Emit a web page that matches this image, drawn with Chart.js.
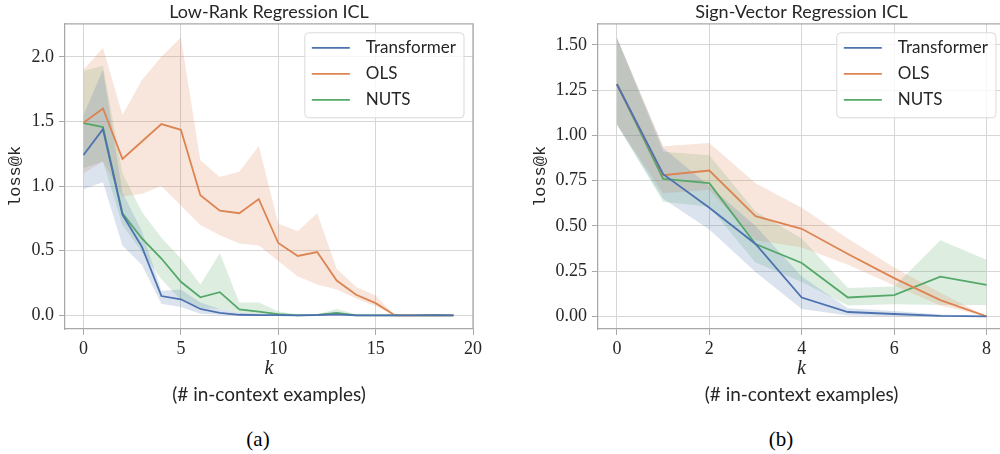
<!DOCTYPE html>
<html>
<head>
<meta charset="utf-8">
<script src="https://cdn.jsdelivr.net/npm/chart.js@4.4.0/dist/chart.umd.min.js"></script>
<style>
  html, body { margin: 0; padding: 0; background: #fff; }
  body { width: 1000px; height: 454px; overflow: hidden; position: relative; }
  canvas { position: absolute; top: 0; }
  #lowCanvas { left: 0; }
  #signCanvas { left: 525px; }
  .caption { position: absolute; top: 427px; font-family: "Liberation Serif", serif; font-size: 21px; color: #000; transform: translateX(-50%); }
</style>
</head>
<body>
<canvas id="lowCanvas" width="490" height="412"></canvas>
<canvas id="signCanvas" width="490" height="412"></canvas>
<div class="caption" style="left:258px">(a)</div>
<div class="caption" style="left:781px">(b)</div>
<script>
// ---- Low-Rank Regression ICL ----
const kLow = [0, 1, 2, 3, 4, 5, 6, 7, 8, 9, 10, 11, 12, 13, 14, 15, 16, 17, 18, 19];
const lowTransformer   = [1.24, 1.44, 0.78, 0.53, 0.15, 0.125, 0.05, 0.02, 0.005, 0.003, 0.003, 0.0, 0.003, 0.008, 0.0, 0.0, 0.0, 0.0, 0.002, 0.0];
const lowTransformerLo = [0.975, 1.03, 0.54, 0.39, 0.09, 0.065, 0.013, 0.005, 0.0, 0.0, 0.0, 0.0, 0.0, 0.0, 0.0, 0.0, 0.0, 0.0, 0.0, 0.0];
const lowTransformerHi = [1.55, 1.9, 0.95, 0.65, 0.19, 0.2, 0.1, 0.05, 0.02, 0.012, 0.01, 0.004, 0.01, 0.025, 0.004, 0.002, 0.002, 0.002, 0.006, 0.002];
const lowOLS   = [1.49, 1.6, 1.21, 1.345, 1.48, 1.435, 0.93, 0.81, 0.79, 0.9, 0.56, 0.46, 0.49, 0.27, 0.16, 0.095, 0.0, 0.0, 0.0, 0.0];
const lowOLSLo = [1.1, 1.19, 0.92, 0.94, 1.0, 0.85, 0.7, 0.62, 0.556, 0.54, 0.42, 0.3, 0.24, 0.2, 0.13, 0.07, 0.0, 0.0, 0.0, 0.0];
const lowOLSHi = [1.9, 2.07, 1.55, 1.82, 2.0, 2.15, 1.2, 1.07, 1.11, 1.31, 0.71, 0.65, 0.79, 0.36, 0.22, 0.155, 0.0, 0.0, 0.0, 0.0];
const lowNUTS   = [1.487, 1.456, 0.79, 0.595, 0.44, 0.26, 0.14, 0.18, 0.047, 0.03, 0.01, 0.0, 0.004, 0.02, 0.0, 0.0, 0.0, 0.0, 0.002, 0.0];
const lowNUTSLo = [1.14, 1.19, 0.7, 0.49, 0.28, 0.12, 0.06, 0.05, 0.02, 0.01, 0.0, 0.0, 0.0, 0.004, 0.0, 0.0, 0.0, 0.0, 0.0, 0.0];
const lowNUTSHi = [1.89, 1.93, 1.1, 0.8, 0.6, 0.44, 0.24, 0.48, 0.1, 0.1, 0.03, 0.01, 0.01, 0.05, 0.01, 0.005, 0.005, 0.005, 0.01, 0.005];
const lowYTicks = [0, 0.5, 1.0, 1.5, 2.0];
const lowXTicks = [0, 5, 10, 15, 20];

// ---- Sign-Vector Regression ICL ----
const kSign = [0, 1, 2, 3, 4, 5, 6, 7, 8];
const signTransformer   = [1.283, 0.786, 0.6, 0.4, 0.104, 0.024, 0.013, 0.002, 0.0];
const signTransformerLo = [1.06, 0.65, 0.48, 0.245, 0.04, 0.005, 0.0, 0.0, 0.0];
const signTransformerHi = [1.54, 0.93, 0.72, 0.5, 0.22, 0.045, 0.03, 0.01, 0.0];
const signOLS   = [1.283, 0.78, 0.806, 0.554, 0.484, 0.345, 0.211, 0.09, 0.0];
const signOLSLo = [1.06, 0.68, 0.7, 0.42, 0.38, 0.285, 0.17, 0.06, 0.0];
const signOLSHi = [1.54, 0.94, 0.958, 0.736, 0.6, 0.43, 0.27, 0.13, 0.0];
const signNUTS   = [1.283, 0.76, 0.736, 0.4, 0.295, 0.104, 0.117, 0.219, 0.174];
const signNUTSLo = [1.06, 0.634, 0.606, 0.297, 0.19, 0.06, 0.067, 0.063, 0.063];
const signNUTSHi = [1.54, 0.91, 0.89, 0.58, 0.43, 0.156, 0.165, 0.42, 0.313];
const signYTicks = [0, 0.25, 0.5, 0.75, 1.0, 1.25, 1.5];
const signXTicks = [0, 2, 4, 6, 8];

const seriesNames = ["Transformer", "OLS", "NUTS"];
const lineColors = ["#4C72B0", "#DD8452", "#55A868"];
const bandColors = ["rgba(76,114,176,0.2)", "rgba(221,132,82,0.2)", "rgba(85,168,104,0.2)"];

const textColor = "#262626";
const gridColor = "#d6d6d6";
const spineColor = "#a8a8a8";

const toPoints = (ks, ys) => ks.map((k, i) => ({ x: k, y: ys[i] }));

function buildDatasets(ks, groups) {
  const out = [];
  groups.forEach((g, i) => {
    out.push({
      label: seriesNames[i],
      data: toPoints(ks, g[0]),
      borderColor: lineColors[i],
      backgroundColor: lineColors[i],
      borderWidth: 1.8,
      pointRadius: 0,
      fill: false,
      order: 0,
      isMain: true,
    });
    // band: upper edge fills down to the lower edge (next dataset)
    out.push({
      label: seriesNames[i] + " upper",
      data: toPoints(ks, g[2]),
      borderColor: "rgba(0,0,0,0)",
      backgroundColor: bandColors[i],
      borderWidth: 0,
      pointRadius: 0,
      fill: "+1",
      order: 1,
    });
    out.push({
      label: seriesNames[i] + " lower",
      data: toPoints(ks, g[1]),
      borderColor: "rgba(0,0,0,0)",
      borderWidth: 0,
      pointRadius: 0,
      fill: false,
      order: 1,
    });
  });
  return out;
}

// top and right spines
const frame = {
  id: "frame",
  afterDatasetsDraw(chart) {
    const { ctx, chartArea: a } = chart;
    ctx.save();
    ctx.strokeStyle = spineColor;
    ctx.lineWidth = 1.25;
    ctx.beginPath();
    ctx.moveTo(a.left, a.top);
    ctx.lineTo(a.right, a.top);
    ctx.lineTo(a.right, a.bottom);
    ctx.stroke();
    ctx.restore();
  },
};

// matplotlib-like legend box in the upper right of the axes
const legendBox = {
  id: "legendBox",
  afterDraw(chart) {
    const { ctx, chartArea: a } = chart;
    const items = chart.data.datasets.filter((d) => d.isMain);
    ctx.save();
    ctx.font = "17px Lato";
    const textW = Math.max(...items.map((d) => ctx.measureText(d.label).width));
    const w = 61 + textW + 8;
    const h = 85;
    const x = a.right - 9 - w;
    const y = a.top + 9;
    ctx.beginPath();
    ctx.roundRect(x, y, w, h, 4);
    ctx.fillStyle = "rgba(255,255,255,0.8)";
    ctx.fill();
    ctx.strokeStyle = "#d9d9d9";
    ctx.lineWidth = 1;
    ctx.stroke();
    items.forEach((d, i) => {
      const cy = y + 15 + i * 26;
      ctx.strokeStyle = d.borderColor;
      ctx.lineWidth = 1.8;
      ctx.beginPath();
      ctx.moveTo(x + 7, cy);
      ctx.lineTo(x + 45, cy);
      ctx.stroke();
      ctx.fillStyle = textColor;
      ctx.textBaseline = "middle";
      ctx.fillText(d.label, x + 61, cy);
    });
    ctx.restore();
  },
};

function makeChart(id, opts) {
  return new Chart(document.getElementById(id), {
    type: "line",
    data: { datasets: buildDatasets(opts.ks, opts.groups) },
    plugins: [frame, legendBox],
    options: {
      responsive: false,
      devicePixelRatio: 1,
      animation: false,
      layout: { padding: { left: 0, right: opts.padRight, top: 0, bottom: 0 } },
      plugins: {
        legend: { display: false },
        tooltip: { enabled: false },
        title: {
          display: true,
          text: opts.title,
          fullSize: false,
          color: textColor,
          font: { family: "Lato", size: 18, weight: "normal", lineHeight: 1.1 },
          padding: { top: 2, bottom: 2 },
        },
        subtitle: {
          display: true,
          position: "bottom",
          text: "(# in-context examples)",
          fullSize: false,
          color: textColor,
          font: { family: "Lato", size: 19, weight: "normal", lineHeight: 1.0 },
          padding: { top: 4, bottom: 8 },
        },
      },
      scales: {
        x: {
          type: "linear",
          min: opts.xMin,
          max: opts.xMax,
          afterBuildTicks: (s) => { s.ticks = opts.xTicks.map((v) => ({ value: v })); },
          afterFit: (s) => { s.height = 52; },
          grid: { color: gridColor, tickColor: spineColor, tickLength: 6, lineWidth: 1 },
          border: { color: spineColor, width: 1.25 },
          ticks: {
            color: textColor,
            font: { family: "Liberation Serif", size: 18 },
            padding: 3,
            maxRotation: 0,
            autoSkip: false,
            callback: (v) => String(v),
          },
          title: {
            display: true,
            text: "k",
            color: textColor,
            font: { family: "Liberation Serif", size: 20, style: "italic" },
            padding: { top: 0, bottom: 0 },
          },
        },
        y: {
          type: "linear",
          min: opts.yMin,
          max: opts.yMax,
          afterBuildTicks: (s) => { s.ticks = opts.yTicks.map((v) => ({ value: v })); },
          afterFit: (s) => { s.width = opts.yWidth; },
          grid: { color: gridColor, tickColor: spineColor, tickLength: 6, lineWidth: 1 },
          border: { color: spineColor, width: 1.25 },
          ticks: {
            color: textColor,
            font: { family: "Liberation Serif", size: 18 },
            padding: 5,
            autoSkip: false,
            callback: (v) => v.toFixed(opts.yDigits),
          },
          title: {
            display: true,
            text: "loss@k",
            color: textColor,
            font: { family: "Liberation Mono", size: 17 },
            padding: { top: 5, bottom: 0 },
          },
        },
      },
    },
  });
}

makeChart("lowCanvas", {
  title: "Low-Rank Regression ICL",
  ks: kLow,
  groups: [
    [lowTransformer, lowTransformerLo, lowTransformerHi],
    [lowOLS, lowOLSLo, lowOLSHi],
    [lowNUTS, lowNUTSLo, lowNUTSHi],
  ],
  xMin: -0.95, xMax: 20, xTicks: lowXTicks,
  yMin: -0.105, yMax: 2.255, yTicks: lowYTicks, yDigits: 1,
  yWidth: 65, padRight: 17,
});

makeChart("signCanvas", {
  title: "Sign-Vector Regression ICL",
  ks: kSign,
  groups: [
    [signTransformer, signTransformerLo, signTransformerHi],
    [signOLS, signOLSLo, signOLSHi],
    [signNUTS, signNUTSLo, signNUTSHi],
  ],
  xMin: -0.41, xMax: 8.4, xTicks: signXTicks,
  yMin: -0.07, yMax: 1.617, yTicks: signYTicks, yDigits: 2,
  yWidth: 73, padRight: 10,
});
</script>
</body>
</html>
